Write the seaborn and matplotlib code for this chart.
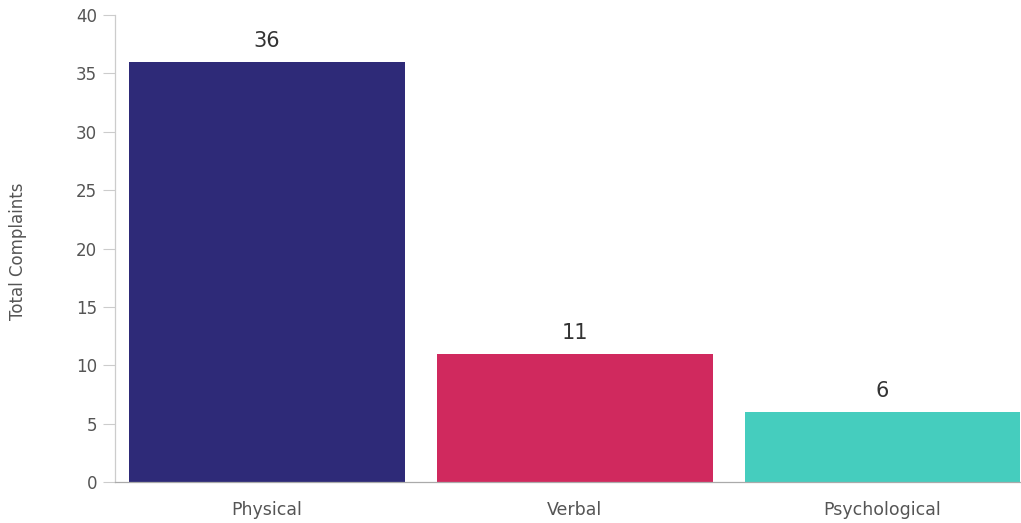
import matplotlib
matplotlib.use("Agg")
import matplotlib.pyplot as plt
import seaborn as sns
import pandas as pd

categories = ["Physical", "Verbal", "Psychological"]
values = [36, 11, 6]
colors = ["#2E2A78", "#D0295E", "#45CDBE"]
yticks = [0, 5, 10, 15, 20, 25, 30, 35, 40]

sns.set_style("white")
plt.rcParams['font.family'] = ['DejaVu Sans']

fig = plt.figure(figsize=(10.21, 5.23), dpi=100)
ax = fig.add_axes([115/1021, 41/523, 1 - 115/1021, 467/523])

df = pd.DataFrame({"cat": categories, "val": values})
sns.barplot(data=df, x="cat", y="val", hue="cat", palette=colors, legend=False,
            width=0.896, ax=ax, saturation=1, linewidth=0)

for i, v in enumerate(values):
    ax.text(i, v + 0.9, str(v), ha="center", va="bottom", fontsize=15,
            color="#333333")

ax.set_ylim(0, 40)
ax.set_xlim(-0.494, 2.45)
ax.set_yticks(yticks)
ax.set_yticklabels([str(t) for t in yticks], fontsize=12, color="#555555")
ax.tick_params(axis="y", left=True, length=9, width=0.8, color="#cccccc", pad=4)
ax.tick_params(axis="x", bottom=False, labelsize=12.5, colors="#555555", pad=10)
ax.set_xlabel("")
ax.set_ylabel("Total Complaints", fontsize=12, color="#555555")
ax.yaxis.set_label_coords(-88/906, 0.495)

for s in ["top", "right"]:
    ax.spines[s].set_visible(False)
ax.spines["left"].set_color("#cccccc")
ax.spines["bottom"].set_color("#aaaaaa")
ax.spines["left"].set_linewidth(0.9)
ax.spines["bottom"].set_linewidth(0.9)

fig.savefig("out.png", dpi=100)
